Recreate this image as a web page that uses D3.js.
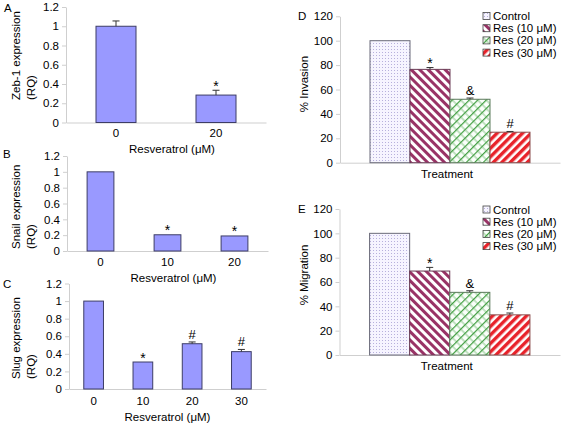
<!DOCTYPE html>
<html><head><meta charset="utf-8">
<script src="https://cdn.jsdelivr.net/npm/d3@7"></script>
<style>body{margin:0;background:#fff;} text{font-family:"Liberation Sans",Arial,sans-serif;}</style>
</head><body>
<script>
// ---- data ----
const rqTicks = [0, 0.2, 0.4, 0.6, 0.8, 1, 1.2];
const rqTickLabels = ["0", "0.2", "0.4", "0.6", "0.8", "1", "1.2"];
const pctTicks = [0, 20, 40, 60, 80, 100, 120];
const pctTickLabels = ["0", "20", "40", "60", "80", "100", "120"];

const catA = ["0", "20"];
const zeb1 = [1.0, 0.285];
const zeb1Err = [0.055, 0.05];
const zeb1Sig = ["", "*"];

const catB = ["0", "10", "20"];
const snail = [1.0, 0.205, 0.19];
const snailErr = [0, 0, 0];
const snailSig = ["", "*", "*"];

const catC = ["0", "10", "20", "30"];
const slug = [1.0, 0.307, 0.515, 0.425];
const slugErr = [0, 0, 0.02, 0.025];
const slugSig = ["", "*", "#", "#"];

const series = ["Control", "Res (10 μM)", "Res (20 μM)", "Res (30 μM)"];
const groupCat = ["Treatment"];
const invasion = [100, 76.5, 52, 25];
const invasionErr = [0, 1.5, 1, 0.6];
const invasionSig = ["", "*", "&", "#"];
const migration = [100, 69, 51.5, 33];
const migrationErr = [0, 3, 1.3, 1.5];
const migrationSig = ["", "*", "&", "#"];

// ---- drawing ----
const svg = d3.select("body").append("svg").attr("width", 563).attr("height", 428);
const FS = 11.5;
const FONT = '"Liberation Sans",Arial,sans-serif';
const axisGrey = "#cfcfcf";

// patterns
const defs = svg.append("defs");
function stripes(id, color, angle, period, w) {
  const p = defs.append("pattern").attr("id", id).attr("patternUnits", "userSpaceOnUse")
    .attr("width", period).attr("height", period).attr("patternTransform", `rotate(${angle})`);
  p.append("rect").attr("width", period).attr("height", period).attr("fill", "#fff");
  p.append("rect").attr("width", w).attr("height", period).attr("fill", color);
}
(function dots() {
  const p = defs.append("pattern").attr("id", "pDots").attr("patternUnits", "userSpaceOnUse")
    .attr("width", 3).attr("height", 3);
  p.append("rect").attr("width", 3).attr("height", 3).attr("fill", "#f6f4ff");
  p.append("rect").attr("x", 1).attr("y", 1).attr("width", 1).attr("height", 1).attr("fill", "#b7b0dc");
})();
stripes("pRes10", "#993366", -45, 6, 3);
stripes("pRes30", "#e8222a", 45, 6, 3.4);
(function lattice() {
  const p = defs.append("pattern").attr("id", "pRes20").attr("patternUnits", "userSpaceOnUse")
    .attr("width", 6).attr("height", 6).attr("patternTransform", "rotate(45)");
  p.append("rect").attr("width", 6).attr("height", 6).attr("fill", "#fbfffb");
  p.append("rect").attr("width", 1.2).attr("height", 6).attr("fill", "#3c9b3c");
  p.append("rect").attr("x", 1.2).attr("y", 2.5).attr("width", 4.8).attr("height", 0.9).attr("fill", "#7cc07c");
})();
const fills = ["url(#pDots)", "url(#pRes10)", "url(#pRes20)", "url(#pRes30)"];
const strokes = ["#6b6b7a", "#6b3a55", "#5b7a5b", "#8a4a4a"];

function sigDy(s) { return s === "*" ? 1.5 : -2; }
function sigSize(s) { return s === "*" ? 14 : 13; }

function styleAxis(a) {
  a.select(".domain").attr("stroke", axisGrey);
  a.selectAll(".tick line").attr("stroke", axisGrey);
  a.selectAll("text").attr("font-size", FS).attr("fill", "#000").style("font-family", FONT);
}

function drawRQ(cfg) {
  const g = svg.append("g");
  const x = d3.scaleBand().domain(cfg.cats).range(cfg.xr).paddingInner(0.6).paddingOuter(0.3);
  const y = d3.scaleLinear().domain([0, 1.2]).range(cfg.yr);
  styleAxis(g.append("g").attr("transform", `translate(${cfg.xr[0]},0)`)
    .call(d3.axisLeft(y).tickValues(rqTicks).tickFormat((d, i) => rqTickLabels[i]).tickSize(4).tickSizeOuter(0).tickPadding(3)));
  styleAxis(g.append("g").attr("transform", `translate(0,${y(0)})`)
    .call(d3.axisBottom(x).tickSize(0).tickSizeOuter(0).tickPadding(cfg.xpad)));
  g.selectAll(".bar").data(cfg.vals).join("rect")
    .attr("x", (d, i) => x(cfg.cats[i])).attr("width", x.bandwidth())
    .attr("y", d => y(d)).attr("height", d => y(0) - y(d))
    .attr("fill", "#9999ff").attr("stroke", "#3d3d66").attr("stroke-width", 1);
  cfg.vals.forEach((v, i) => {
    const e = cfg.errs[i];
    const cx = x(cfg.cats[i]) + x.bandwidth() / 2;
    if (e > 0) {
      g.append("line").attr("x1", cx).attr("x2", cx).attr("y1", y(v)).attr("y2", y(v + e)).attr("stroke", "#333");
      g.append("line").attr("x1", cx - 3.5).attr("x2", cx + 3.5).attr("y1", y(v + e)).attr("y2", y(v + e)).attr("stroke", "#333");
    }
    if (cfg.sigs[i]) {
      g.append("text").attr("x", cx).attr("y", y(v + e) + sigDy(cfg.sigs[i]) - 1)
        .attr("text-anchor", "middle").attr("font-size", sigSize(cfg.sigs[i])).text(cfg.sigs[i]);
    }
  });
  g.append("text").attr("x", (cfg.xr[0] + cfg.xr[1]) / 2 + cfg.titleShift).attr("y", y(0) + cfg.titleDy)
    .attr("text-anchor", "middle").attr("font-size", FS).text("Resveratrol (μM)");
  cfg.ytitle.forEach((t, i) => {
    g.append("text").attr("transform", `translate(${20 + i * 15},${cfg.ytStart}) rotate(-90)`)
      .attr("text-anchor", "start").attr("font-size", FS).text(t);
  });
  g.append("text").attr("x", cfg.letter[0]).attr("y", cfg.letter[1]).attr("font-size", FS).text(cfg.label);
}

drawRQ({cats: catA, vals: zeb1, errs: zeb1Err, sigs: zeb1Sig, xr: [66, 266], yr: [122.5, 7], xpad: 6.5,
  titleDy: 30, titleShift: 6, ytitle: ["Zeb-1 expression", "(RQ)"], ytStart: 100, label: "A", letter: [4, 12]});
drawRQ({cats: catB, vals: snail, errs: snailErr, sigs: snailSig, xr: [67, 268], yr: [251, 156], xpad: 6.5,
  titleDy: 31, titleShift: 6, ytitle: ["Snail expression", "(RQ)"], ytStart: 249, label: "B", letter: [3, 158]});
drawRQ({cats: catC, vals: slug, errs: slugErr, sigs: slugSig, xr: [69, 266], yr: [389, 283.5], xpad: 8,
  titleDy: 32, titleShift: 0, ytitle: ["Slug expression", "(RQ)"], ytStart: 379, label: "C", letter: [3, 288]});

function drawPct(cfg) {
  const g = svg.append("g");
  const x0 = d3.scaleBand().domain(groupCat).range(cfg.xr).paddingInner(0).paddingOuter(0.1875);
  const x1 = d3.scaleBand().domain(series).range([0, x0.bandwidth()]).padding(0);
  const y = d3.scaleLinear().domain([0, 120]).range(cfg.yr);
  styleAxis(g.append("g").attr("transform", `translate(${cfg.xr[0]},0)`)
    .call(d3.axisLeft(y).tickValues(pctTicks).tickFormat((d, i) => pctTickLabels[i]).tickSize(4).tickSizeOuter(0).tickPadding(3)));
  const xa = g.append("g").attr("transform", `translate(0,${y(0)})`)
    .call(d3.axisBottom(x0).tickSize(0).tickSizeOuter(0).tickPadding(7));
  styleAxis(xa);
  xa.selectAll("text").attr("dx", -3);
  const gx = x0(groupCat[0]);
  g.selectAll(".bar").data(cfg.vals).join("rect")
    .attr("x", (d, i) => gx + x1(series[i])).attr("width", x1.bandwidth())
    .attr("y", d => y(d)).attr("height", d => y(0) - y(d))
    .attr("fill", (d, i) => fills[i]).attr("stroke", (d, i) => strokes[i]).attr("stroke-width", 1);
  cfg.vals.forEach((v, i) => {
    const e = cfg.errs[i];
    const cx = gx + x1(series[i]) + x1.bandwidth() / 2;
    if (e > 0) {
      g.append("line").attr("x1", cx).attr("x2", cx).attr("y1", y(v)).attr("y2", y(v + e)).attr("stroke", "#333");
      g.append("line").attr("x1", cx - 3.5).attr("x2", cx + 3.5).attr("y1", y(v + e)).attr("y2", y(v + e)).attr("stroke", "#333");
    }
    if (cfg.sigs[i]) {
      g.append("text").attr("x", cx).attr("y", y(v + e) + sigDy(cfg.sigs[i]) - 1)
        .attr("text-anchor", "middle").attr("font-size", sigSize(cfg.sigs[i])).text(cfg.sigs[i]);
    }
  });
  g.append("text").attr("transform", `translate(${cfg.ytX},${cfg.ytY}) rotate(-90)`)
    .attr("text-anchor", "middle").attr("font-size", FS).text(cfg.ytitle);
  g.append("text").attr("x", 298).attr("y", cfg.letterY).attr("font-size", FS).text(cfg.label);
  series.forEach((s, i) => {
    const ly = cfg.legY + i * 12.2;
    g.append("rect").attr("x", 483).attr("y", ly - 3.5).attr("width", 7).attr("height", 7)
      .attr("fill", fills[i]).attr("stroke", "#444").attr("stroke-width", 0.8);
    g.append("text").attr("x", 493).attr("y", ly + 4).attr("font-size", FS).text(s);
  });
}

drawPct({vals: invasion, errs: invasionErr, sigs: invasionSig, xr: [340, 560], yr: [162.7, 16.3],
  ytitle: "% Invasion", ytX: 308, ytY: 84, label: "D", letterY: 20, legY: 16});
drawPct({vals: migration, errs: migrationErr, sigs: migrationSig, xr: [339.5, 560], yr: [355, 209],
  ytitle: "% Migration", ytX: 308, ytY: 275, label: "E", letterY: 213, legY: 209.5});
</script>
</body></html>
